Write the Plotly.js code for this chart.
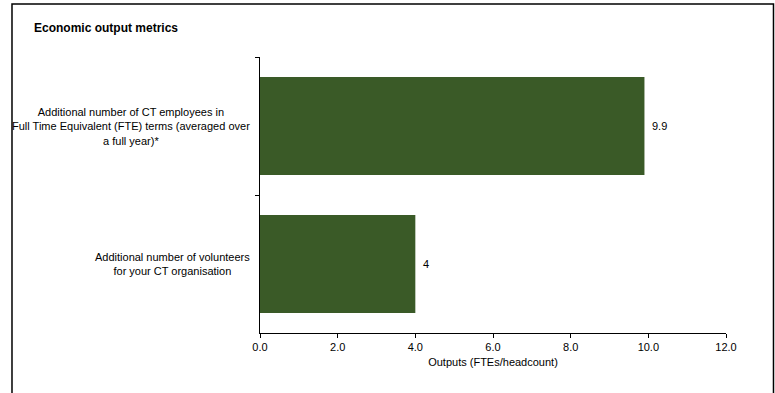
<!DOCTYPE html>
<html>
<head>
<meta charset="utf-8">
<script src="https://cdn.plot.ly/plotly-3.0.1.min.js"></script>
<style>
  html, body { margin: 0; padding: 0; background: #fff; }
  #chart { width: 775px; height: 393px; }
</style>
</head>
<body>
<div id="chart"></div>
<script>
// Economic output metrics: additional staff and volunteers
const categories = [
  "Additional number of CT employees in<br>Full Time Equivalent (FTE) terms (averaged over<br>a full year)*",
  "Additional number of volunteers<br>for your CT organisation"
];
const outputs = [9.9, 4];
const valueLabels = ["9.9", "4"];

const FONT = "Liberation Sans, Arial, sans-serif";
const BAR_GREEN = "#3a5a27";

const trace = {
  type: "bar",
  orientation: "h",
  y: categories,
  x: outputs,
  marker: { color: BAR_GREEN, line: { width: 0 } },
  hoverinfo: "x"
};

// Category labels centred line by line, to the left of the axis
const categoryNotes = categories.map(c => ({
  xref: "paper", yref: "y",
  x: 0, y: c,
  xanchor: "right", yanchor: "middle",
  xshift: -8,
  text: c,
  align: "center",
  showarrow: false,
  font: { family: FONT, size: 11, color: "#000" }
}));

// Value labels just past the end of each bar
const valueNotes = outputs.map((v, i) => ({
  xref: "x", yref: "y",
  x: v, y: categories[i],
  xanchor: "left", yanchor: "middle",
  xshift: 6,
  text: valueLabels[i],
  showarrow: false,
  font: { family: FONT, size: 11, color: "#000" }
}));

const layout = {
  width: 775,
  height: 393,
  margin: { l: 260, r: 49, t: 57, b: 60 },
  paper_bgcolor: "#fff",
  plot_bgcolor: "#fff",
  showlegend: false,
  bargap: 0.29,
  font: { family: FONT, size: 11, color: "#000" },
  title: {
    text: "<b>Economic output metrics</b>",
    x: 34 / 775, xanchor: "left", xref: "container",
    y: 1 - 28 / 393, yanchor: "middle", yref: "container",
    font: { family: FONT, size: 12, color: "#000" }
  },
  xaxis: {
    range: [0, 12],
    dtick: 2,
    tick0: 0,
    tickformat: ".1f",
    showgrid: false,
    zeroline: false,
    showline: true,
    linecolor: "#000",
    linewidth: 1,
    ticks: "outside",
    ticklen: 4,
    tickcolor: "#000",
    tickfont: { family: FONT, size: 11, color: "#000" },
    title: {
      text: "Outputs (FTEs/headcount)",
      standoff: 6,
      font: { family: FONT, size: 11, color: "#000" }
    },
    fixedrange: true
  },
  yaxis: {
    type: "category",
    autorange: "reversed",
    showticklabels: false,
    showgrid: false,
    zeroline: false,
    showline: true,
    linecolor: "#000",
    linewidth: 1,
    ticks: "outside",
    tickson: "boundaries",
    ticklen: 4,
    tickcolor: "#000",
    fixedrange: true
  },
  annotations: categoryNotes.concat(valueNotes),
  shapes: [
    // Outer frame: left, top and right edges
    {
      type: "path", xref: "paper", yref: "paper",
      path: "M -0.5322,-0.25 L -0.5322,1.192 L 1.1019,1.192 L 1.1019,-0.25",
      line: { color: "#000", width: 1.5 }
    }
  ]
};

Plotly.newPlot("chart", [trace], layout, { displayModeBar: false, staticPlot: true });
</script>
</body>
</html>
